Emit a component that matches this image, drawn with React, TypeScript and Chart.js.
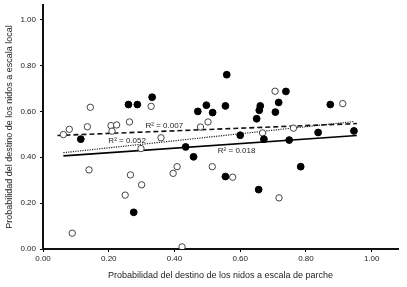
import React, { useEffect, useRef } from "react";
import { Chart, registerables } from "chart.js";

Chart.register(...registerables);

// Filled (black) points
const filledX = [0.559, 0.26, 0.287, 0.332, 0.471, 0.497, 0.516, 0.555, 0.739, 0.661, 0.658, 0.717, 0.707, 0.65, 0.874, 0.837, 0.946, 0.115, 0.434, 0.458, 0.276, 0.555, 0.6, 0.672, 0.749, 0.656, 0.784];
const filledY = [0.76, 0.63, 0.63, 0.662, 0.6, 0.627, 0.595, 0.624, 0.687, 0.624, 0.605, 0.639, 0.597, 0.568, 0.63, 0.508, 0.515, 0.479, 0.445, 0.402, 0.16, 0.316, 0.496, 0.479, 0.475, 0.259, 0.359];

// Open (white) points
const openX = [0.144, 0.329, 0.08, 0.062, 0.135, 0.207, 0.224, 0.21, 0.263, 0.479, 0.502, 0.706, 0.912, 0.762, 0.668, 0.359, 0.298, 0.14, 0.266, 0.3, 0.25, 0.089, 0.423, 0.396, 0.408, 0.515, 0.577, 0.718];
const openY = [0.618, 0.622, 0.522, 0.499, 0.533, 0.538, 0.541, 0.514, 0.554, 0.532, 0.554, 0.688, 0.634, 0.527, 0.506, 0.485, 0.438, 0.345, 0.323, 0.28, 0.235, 0.069, 0.009, 0.33, 0.359, 0.359, 0.313, 0.223];

// Regression lines (endpoints)
const dashedX = [0.044, 0.955];
const dashedY = [0.495, 0.547];
const dottedX = [0.062, 0.947];
const dottedY = [0.42, 0.556];
const solidX = [0.062, 0.955];
const solidY = [0.406, 0.495];

// R² labels (text, anchor in data units)
const r2Texts = ["R² = 0.007", "R² = 0.052", "R² = 0.018"];
const r2X = [0.369, 0.256, 0.589];
const r2Y = [0.536, 0.472, 0.429];

const xTicks = [0, 0.2, 0.4, 0.6, 0.8, 1.0];
const yTicks = [0, 0.2, 0.4, 0.6, 0.8, 1.0];

const xTitle = "Probabilidad del destino de los nidos a escala de parche";
const yTitle = "Probabilidad del destino de los nidos a escala local";

const FONT = "'Liberation Sans', Arial, sans-serif";

const zip = (xs: number[], ys: number[]) => xs.map((x, i) => ({ x, y: ys[i] }));

const labelPlugin = {
  id: "r2labels",
  afterDatasetsDraw(chart: any) {
    const { ctx, scales } = chart;
    ctx.save();
    ctx.font = `8px ${FONT}`;
    ctx.fillStyle = "#222";
    ctx.textAlign = "center";
    ctx.textBaseline = "middle";
    r2Texts.forEach((t, i) => {
      ctx.fillText(t, scales.x.getPixelForValue(r2X[i]), scales.y.getPixelForValue(r2Y[i]));
    });
    ctx.restore();
  },
};

export default function App() {
  const ref = useRef<HTMLCanvasElement | null>(null);
  useEffect(() => {
    if (!ref.current) return;
    const chart = new Chart(ref.current, {
      type: "scatter",
      data: {
        datasets: [
          {
            data: zip(filledX, filledY),
            pointRadius: 3.4,
            pointBackgroundColor: "#000",
            pointBorderColor: "#000",
            pointBorderWidth: 1,
          },
          {
            data: zip(openX, openY),
            pointRadius: 3.2,
            pointBackgroundColor: "#fff",
            pointBorderColor: "#444",
            pointBorderWidth: 1,
          },
          {
            data: zip(dashedX, dashedY),
            showLine: true,
            pointRadius: 0,
            borderColor: "#111",
            borderWidth: 1.6,
            borderDash: [5, 3],
          },
          {
            data: zip(dottedX, dottedY),
            showLine: true,
            pointRadius: 0,
            borderColor: "#222",
            borderWidth: 1.2,
            borderDash: [1.2, 1.2],
          },
          {
            data: zip(solidX, solidY),
            showLine: true,
            pointRadius: 0,
            borderColor: "#000",
            borderWidth: 1.6,
          },
        ],
      },
      options: {
        animation: false,
        responsive: false,
        maintainAspectRatio: false,
        layout: { padding: { top: 0, right: 9, left: 0, bottom: 0 } },
        plugins: { legend: { display: false }, tooltip: { enabled: false } },
        scales: {
          x: {
            type: "linear",
            min: 0,
            max: 1.08,
            afterFit: (s: any) => {
              s.height = 38;
              s.paddingLeft = 0;
              s.paddingRight = 0;
            },
            afterBuildTicks: (s: any) => {
              s.ticks = xTicks.map((v) => ({ value: v }));
            },
            ticks: {
              callback: (v: any) => Number(v).toFixed(2),
              font: { family: FONT, size: 8 },
              color: "#222",
              padding: 2,
              maxRotation: 0,
            },
            grid: { drawOnChartArea: false, drawTicks: true, tickLength: 3, color: "#000" },
            border: { display: true, color: "#111", width: 2 },
            title: {
              display: true,
              text: xTitle,
              font: { family: FONT, size: 9 },
              color: "#222",
              padding: { top: 0, bottom: 6 },
            },
          },
          y: {
            type: "linear",
            min: 0,
            max: 1.064,
            afterFit: (s: any) => {
              s.width = 43;
              s.paddingTop = 0;
              s.paddingBottom = 0;
            },
            afterBuildTicks: (s: any) => {
              s.ticks = yTicks.map((v) => ({ value: v }));
            },
            ticks: {
              callback: (v: any) => Number(v).toFixed(2),
              font: { family: FONT, size: 8 },
              color: "#222",
              padding: 4,
            },
            grid: { drawOnChartArea: false, drawTicks: true, tickLength: 3, color: "#000" },
            border: { display: true, color: "#111", width: 2 },
            title: {
              display: true,
              text: yTitle,
              font: { family: FONT, size: 9 },
              color: "#222",
              padding: { top: 4, bottom: 0 },
            },
          },
        },
      },
      plugins: [labelPlugin],
    });
    return () => chart.destroy();
  }, []);
  return (
    <div style={{ position: "fixed", left: 0, top: 0, width: 407, height: 287, background: "#fff" }}>
      <canvas ref={ref} width={407} height={287} style={{ width: 407, height: 287 }} />
    </div>
  );
}
